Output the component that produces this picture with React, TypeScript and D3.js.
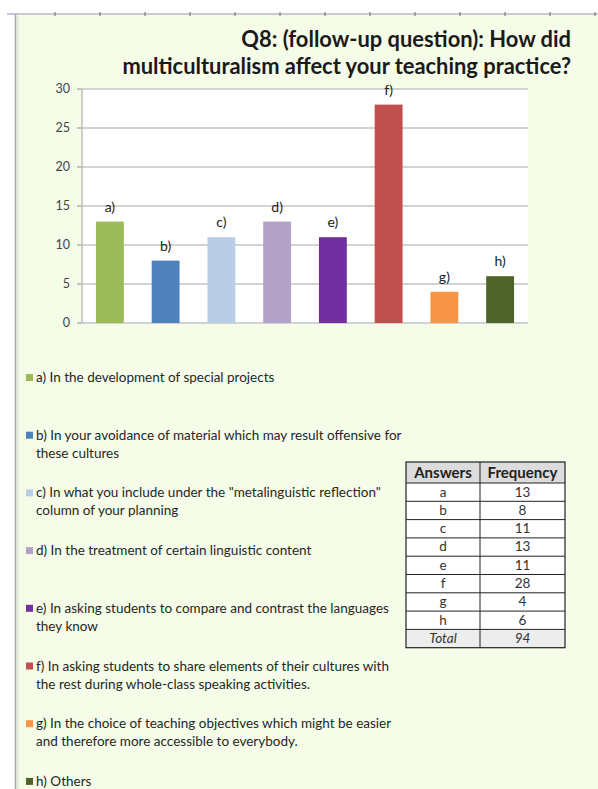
import React from "react";
import * as d3 from "d3";

const categories = ["a", "b", "c", "d", "e", "f", "g", "h"];
const frequencies = [13, 8, 11, 13, 11, 28, 4, 6];
const barColors = ["#9bbb59", "#4f81bd", "#b9cde5", "#b3a2c7", "#7030a0", "#c0504d", "#f79646", "#4f6228"];
const yTicks = [0, 5, 10, 15, 20, 25, 30];
const titleLines = ["Q8: (follow-up question): How did", "multiculturalism affect your teaching practice?"];
const legendLines = [
  ["a) In the development of special projects"],
  ["b) In your avoidance of material which may result offensive for", "these cultures"],
  ["c) In what you include under the \"metalinguistic reflection\"", "column of your planning"],
  ["d) In the treatment of certain linguistic content"],
  ["e) In asking students to compare and contrast the languages", "they know"],
  ["f) In asking students to share elements of their cultures with", "the rest during whole-class speaking activities."],
  ["g) In the choice of teaching objectives which might be easier", "and therefore more accessible to everybody."],
  ["h) Others"],
];
const tableHeaders = ["Answers", "Frequency"];
const totalLabel = "Total";

const FONT = "Lato, 'Open Sans', sans-serif";

export default function App() {
  const W = 598, H = 789;
  const plot = { left: 82, right: 528, top: 89, bottom: 323 };
  const x = d3.scaleBand<string>().domain(categories).range([plot.left, plot.right]).paddingInner(0.5).paddingOuter(0.25);
  const y = d3.scaleLinear().domain([0, 30]).range([plot.bottom, plot.top]);
  const total = d3.sum(frequencies);

  const table = { left: 406, right: 565, mid: 480, top: 462, headerH: 21, rowH: 18.3 };
  const rows = categories.map((c, i) => [c, String(frequencies[i])]);
  const allRows = [...rows, [totalLabel, String(total)]];
  const tableBottom = table.top + table.headerH + allRows.length * table.rowH;

  const rulerTicks = d3.range(55, 598, 45);

  return (
    <svg width={W} height={H} style={{ position: "absolute", left: 0, top: 0, background: "#fff" }} fontFamily={FONT}>
      {/* page background */}
      <rect x={16} y={15} width={W - 16} height={H - 15} fill="#f5fde9" />
      <line x1={7} x2={W} y1={14} y2={14} stroke="#c9c9d3" strokeWidth={2} />
      {rulerTicks.map((t) => (
        <line key={t} x1={t} x2={t} y1={12} y2={16} stroke="#666" strokeWidth={1} />
      ))}
      <line x1={15.5} x2={15.5} y1={14} y2={H} stroke="#a8a8a8" strokeWidth={1.5} />
      <line x1={17.5} x2={17.5} y1={16} y2={H} stroke="#e2e6da" strokeWidth={2} />

      {/* title */}
      {titleLines.map((t, i) => (
        <text key={i} x={571} y={47 + i * 27} textAnchor="end" fontSize={21.9} fontWeight={700} fill="#1a1a1a">
          {t}
        </text>
      ))}

      {/* plot area */}
      <rect x={plot.left} y={plot.top} width={plot.right - plot.left} height={plot.bottom - plot.top} fill="#ffffff" />
      {yTicks.map((t) => (
        <g key={t}>
          <line x1={plot.left} x2={plot.right} y1={y(t)} y2={y(t)} stroke="#c4c4c4" strokeWidth={1.5} />
          <line x1={plot.left - 5} x2={plot.left} y1={y(t)} y2={y(t)} stroke="#b0b0b0" strokeWidth={1.5} />
          <text x={70} y={y(t) + 4} textAnchor="end" fontSize={12.5} fill="#444">
            {t}
          </text>
        </g>
      ))}
      <line x1={plot.left} x2={plot.left} y1={plot.top} y2={plot.bottom} stroke="#bdbdbd" strokeWidth={1.5} />

      {categories.map((c, i) => (
        <g key={c}>
          <rect x={x(c)} y={y(frequencies[i])} width={x.bandwidth()} height={y(0) - y(frequencies[i])} fill={barColors[i]} />
          <text x={(x(c) as number) + x.bandwidth() / 2} y={y(frequencies[i]) - 10} textAnchor="middle" fontSize={14} fill="#222">
            {c + ")"}
          </text>
        </g>
      ))}

      {/* legend */}
      {legendLines.map((lines, i) => {
        const y0 = 382 + i * 57.7;
        return (
          <g key={i}>
            <rect x={26} y={y0 - 8} width={7} height={7} fill={barColors[i]} />
            {lines.map((ln, j) => (
              <text key={j} x={36} y={y0 + j * 18} fontSize={13.5} fill="#262626">
                {ln}
              </text>
            ))}
          </g>
        );
      })}

      {/* table */}
      <rect x={table.left} y={table.top} width={table.right - table.left} height={table.headerH} fill="#dcdcdc" />
      <rect x={table.left} y={tableBottom - table.rowH} width={table.right - table.left} height={table.rowH} fill="#ededed" />
      <rect x={table.left} y={table.top + table.headerH} width={table.right - table.left} height={tableBottom - table.top - table.headerH - table.rowH} fill="#ffffff" />
      {tableHeaders.map((h, k) => (
        <text key={h} x={k === 0 ? (table.left + table.mid) / 2 : (table.mid + table.right) / 2} y={table.top + 15.5} textAnchor="middle" fontSize={15} fontWeight={700} fill="#222">
          {h}
        </text>
      ))}
      {allRows.map((r, i) => {
        const ry = table.top + table.headerH + i * table.rowH;
        const isTotal = i === allRows.length - 1;
        return (
          <g key={i}>
            <line x1={table.left} x2={table.right} y1={ry} y2={ry} stroke="#222" strokeWidth={1} />
            <text x={(table.left + table.mid) / 2} y={ry + 13.5} textAnchor="middle" fontSize={13.5} fontStyle={isTotal ? "italic" : "normal"} fill="#333">
              {r[0]}
            </text>
            <text x={(table.mid + table.right) / 2} y={ry + 13.5} textAnchor="middle" fontSize={13.5} fontStyle={isTotal ? "italic" : "normal"} fill="#333">
              {r[1]}
            </text>
          </g>
        );
      })}
      <line x1={table.mid} x2={table.mid} y1={table.top} y2={tableBottom} stroke="#222" strokeWidth={1} />
      <rect x={table.left} y={table.top} width={table.right - table.left} height={tableBottom - table.top} fill="none" stroke="#222" strokeWidth={1.2} />
    </svg>
  );
}
